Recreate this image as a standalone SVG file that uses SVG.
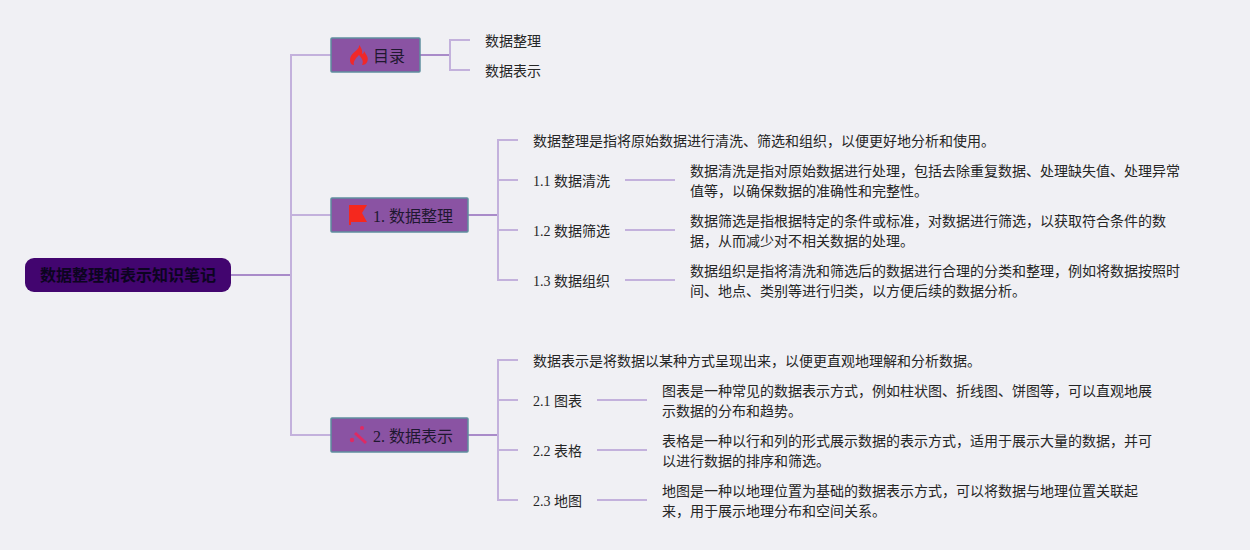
<svg xmlns="http://www.w3.org/2000/svg" width="1250" height="550" viewBox="0 0 1250 550">
<style>
text{font-family:"Liberation Serif","Noto Sans CJK SC",serif;fill:#262626}
.t{font-size:14px}
.m{font-size:16px;fill:#1f1830}
.r{font-size:16px;font-weight:bold;fill:#0c0420}
.box{fill:#8a53a3;stroke:#5f8f9f;stroke-width:1.5}
.c1{fill:none;stroke:#a98bc9;stroke-width:2}
.c2{fill:none;stroke:#c3b1dc;stroke-width:2}
</style>
<rect width="1250" height="550" fill="#f0f0f4"/>
<g id="connectors">
<path class="c1" d="M231 275H291"/>
<path class="c2" d="M331 55H291V435H331M291 215H331"/>
<path class="c1" d="M420 55H450M468 215H498M468 435H498"/>
<path class="c2" d="M470 40H450V70H470"/>
<path class="c2" d="M518 140H498V280H518M498 180H518M498 230H518"/>
<path class="c2" d="M518 360H498V500H518M498 400H518M498 450H518"/>
<path class="c2" d="M625 180H675M625 230H675M625 280H675M597 400H647M597 450H647M597 500H647"/>
</g>
<g id="root"><rect x="25" y="258" width="206" height="34" rx="9" fill="#42056f"/><text class="r" x="128" y="281" text-anchor="middle">数据整理和表示知识笔记</text></g>
<g id="n-toc"><rect class="box" x="331" y="38" width="89" height="34" rx="1"/>
<path d="M359 45C360 49 354 51 351 56C349 60 350 65 354 65C353 62 355 59 359 55C362 58 364 62 362 65C367 65 369 60 367 56C366 54 365 53 364 51C364 53 363 54 362 54C363 51 361 47 359 45Z" fill="#f0282a"/>
<text class="m" x="373" y="62">目录</text></g>
<g id="n-1"><rect class="box" x="331" y="198" width="137" height="34" rx="1"/>
<path d="M349 205H367L362 213L367 222H351V225H349Z" fill="#f5281e"/>
<text class="m" x="373" y="222">1. 数据整理</text></g>
<g id="n-2"><rect class="box" x="331" y="418" width="137" height="34" rx="1"/>
<path d="M355 433L366 443" stroke="#df2a63" stroke-width="3" fill="none"/>
<circle cx="352" cy="440" r="2.2" fill="#df2a63"/><circle cx="362" cy="428" r="2" fill="#df2a63"/>
<text class="m" x="373" y="442">2. 数据表示</text></g>
<g id="toc-1"><text class="t" x="485" y="46">数据整理</text></g>
<g id="toc-2"><text class="t" x="485" y="76">数据表示</text></g>
<g id="a0"><text class="t" x="533" y="146">数据整理是指将原始数据进行清洗、筛选和组织，以便更好地分析和使用。</text></g>
<g id="a1"><text class="t" x="533" y="186">1.1 数据清洗</text></g>
<g id="a1d"><text class="t" x="690" y="176">数据清洗是指对原始数据进行处理，包括去除重复数据、处理缺失值、处理异常</text><text class="t" x="690" y="196">值等，以确保数据的准确性和完整性。</text></g>
<g id="a2"><text class="t" x="533" y="236">1.2 数据筛选</text></g>
<g id="a2d"><text class="t" x="690" y="226">数据筛选是指根据特定的条件或标准，对数据进行筛选，以获取符合条件的数</text><text class="t" x="690" y="246">据，从而减少对不相关数据的处理。</text></g>
<g id="a3"><text class="t" x="533" y="286">1.3 数据组织</text></g>
<g id="a3d"><text class="t" x="690" y="276">数据组织是指将清洗和筛选后的数据进行合理的分类和整理，例如将数据按照时</text><text class="t" x="690" y="296">间、地点、类别等进行归类，以方便后续的数据分析。</text></g>
<g id="b0"><text class="t" x="533" y="366">数据表示是将数据以某种方式呈现出来，以便更直观地理解和分析数据。</text></g>
<g id="b1"><text class="t" x="533" y="406">2.1 图表</text></g>
<g id="b1d"><text class="t" x="662" y="396">图表是一种常见的数据表示方式，例如柱状图、折线图、饼图等，可以直观地展</text><text class="t" x="662" y="416">示数据的分布和趋势。</text></g>
<g id="b2"><text class="t" x="533" y="456">2.2 表格</text></g>
<g id="b2d"><text class="t" x="662" y="446">表格是一种以行和列的形式展示数据的表示方式，适用于展示大量的数据，并可</text><text class="t" x="662" y="466">以进行数据的排序和筛选。</text></g>
<g id="b3"><text class="t" x="533" y="506">2.3 地图</text></g>
<g id="b3d"><text class="t" x="662" y="496">地图是一种以地理位置为基础的数据表示方式，可以将数据与地理位置关联起</text><text class="t" x="662" y="516">来，用于展示地理分布和空间关系。</text></g>
</svg>
